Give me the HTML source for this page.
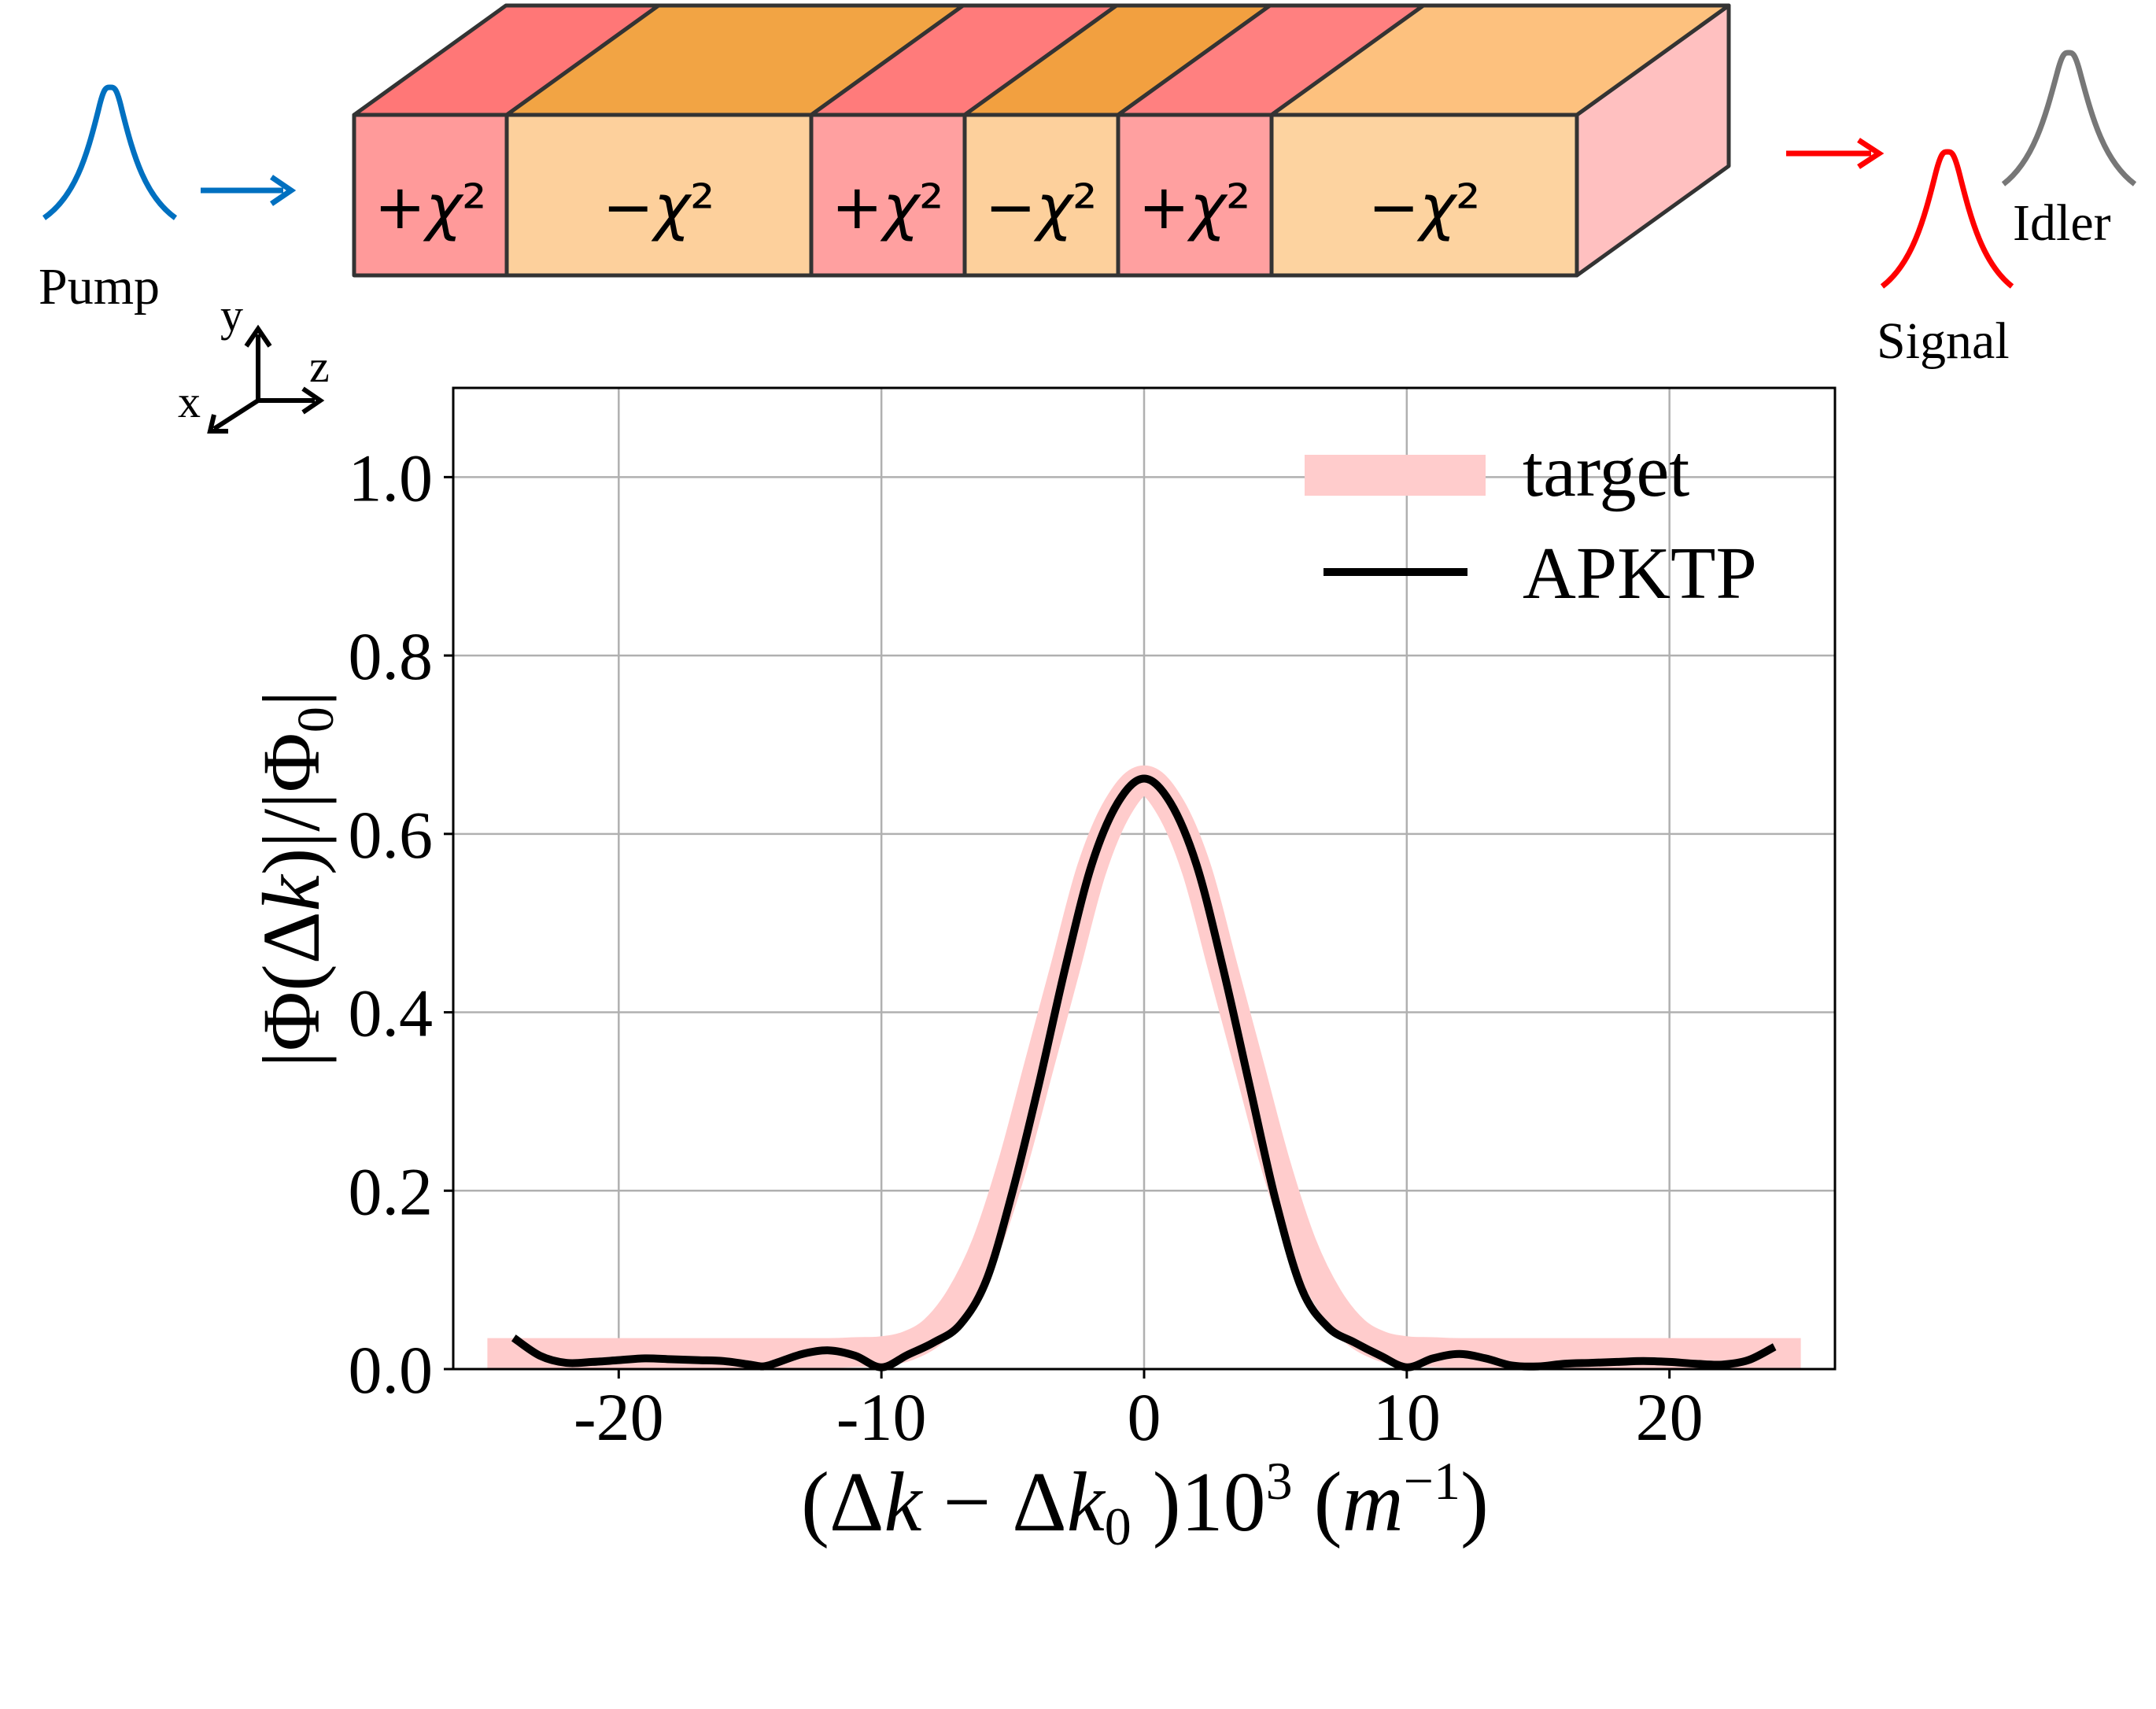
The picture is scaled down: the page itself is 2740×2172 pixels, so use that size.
<!DOCTYPE html>
<html><head><meta charset="utf-8"><style>
html,body{margin:0;padding:0;background:#fff}
svg{display:block}
text{font-family:"Liberation Serif",serif;fill:#000}
</style></head><body>
<svg id="fig" width="2740" height="2172" viewBox="0 0 2740 2172" xmlns="http://www.w3.org/2000/svg">
<g stroke="#333" stroke-width="5" stroke-linejoin="round">
  <polygon points="2004,146 2197,7 2197,211 2004,350" fill="#ffc0c0"/>
  <polygon points="450,146 644,146 837,7 643,7" fill="#ff7777"/>
  <polygon points="644,146 1031,146 1224,7 837,7" fill="#f2a444"/>
  <polygon points="1031,146 1226,146 1419,7 1224,7" fill="#ff7b7b"/>
  <polygon points="1226,146 1421,146 1614,7 1419,7" fill="#f2a040"/>
  <polygon points="1421,146 1616,146 1809,7 1614,7" fill="#ff8080"/>
  <polygon points="1616,146 2004,146 2197,7 1809,7" fill="#fdc17e"/>
  <rect x="450" y="146" width="194" height="204" fill="#ff9a9a"/>
  <rect x="644" y="146" width="387" height="204" fill="#fdd09c"/>
  <rect x="1031" y="146" width="195" height="204" fill="#ffa0a0"/>
  <rect x="1226" y="146" width="195" height="204" fill="#fdd09c"/>
  <rect x="1421" y="146" width="195" height="204" fill="#ffa0a0"/>
  <rect x="1616" y="146" width="388" height="204" fill="#fdd3a0"/>
</g>
<g font-size="78" text-anchor="middle">
  <text x="547" y="290" style="font-family:'DejaVu Sans',sans-serif">+<tspan font-style="italic">χ</tspan>²</text>
  <text x="837" y="290" style="font-family:'DejaVu Sans',sans-serif">−<tspan font-style="italic">χ</tspan>²</text>
  <text x="1128" y="290" style="font-family:'DejaVu Sans',sans-serif">+<tspan font-style="italic">χ</tspan>²</text>
  <text x="1323" y="290" style="font-family:'DejaVu Sans',sans-serif">−<tspan font-style="italic">χ</tspan>²</text>
  <text x="1518" y="290" style="font-family:'DejaVu Sans',sans-serif">+<tspan font-style="italic">χ</tspan>²</text>
  <text x="1810" y="290" style="font-family:'DejaVu Sans',sans-serif">−<tspan font-style="italic">χ</tspan>²</text>
</g>
<g fill="none" stroke-width="7">
  <path stroke="#0070c0" d="M56,277 C95,250 110,200 125,140 C132,110 135,111 140,111 C145,111 148,110 155,140 C170,200 185,250 223,277"/>
  <line x1="255" y1="242" x2="360" y2="242" stroke="#0070c0"/>
  <polyline points="345,225 370,242 345,259" stroke="#0070c0"/>
  <path stroke="#ff0000" d="M2392,364 C2430,335 2445,280 2460,220 C2467,193 2470,193 2475,193 C2480,193 2483,193 2490,220 C2505,280 2520,335 2557,364"/>
  <line x1="2270" y1="195" x2="2378" y2="195" stroke="#ff0000"/>
  <polyline points="2362,178 2388,195 2362,212" stroke="#ff0000"/>
  <path stroke="#777" d="M2546,234 C2584,205 2599,150 2614,94 C2621,67 2624,67 2629,67 C2634,67 2637,67 2644,94 C2659,150 2674,205 2713,234"/>
</g>
<text x="49" y="386" font-size="66">Pump</text>
<text x="2558" y="305" font-size="66">Idler</text>
<text x="2385" y="455" font-size="66">Signal</text>
<g stroke="#000" stroke-width="6" fill="none">
  <line x1="328" y1="509" x2="328" y2="425"/><polyline points="313,440 328,418 343,440"/>
  <line x1="328" y1="509" x2="400" y2="509"/><polyline points="385,494 407,509 385,524"/>
  <line x1="328" y1="509" x2="272" y2="545"/><polyline points="272,527 267,548 290,548"/>
</g>
<text x="280" y="420" font-size="58">y</text>
<text x="393" y="485" font-size="58">z</text>
<text x="226" y="530" font-size="58">x</text>
<g id="plot"></g>
</svg>
<script>
const xTicks = [-20, -10, 0, 10, 20];
const yTicks = [0.0, 0.2, 0.4, 0.6, 0.8, 1.0];
const yTickLabels = ["0.0", "0.2", "0.4", "0.6", "0.8", "1.0"];
const targetX = [-25,-20,-15,-12,-11,-10,-9,-8,-7,-6,-5,-4,-3,-2,-1,0,1,2,3,4,5,6,7,8,9,10,11,12,15,20,25];
const targetY = [0.018,0.018,0.018,0.018,0.019,0.02,0.026,0.043,0.08,0.14,0.23,0.34,0.45,0.56,0.63,0.66,0.63,0.56,0.45,0.34,0.23,0.14,0.08,0.043,0.026,0.02,0.019,0.018,0.018,0.018,0.018];
const apktpX = [-24,-23,-22,-21,-20,-19,-18,-17,-16,-15,-14.5,-14,-13,-12,-11,-10,-9,-8,-7,-6,-5,-4,-3,-2,-1,0,1,2,3,4,5,6,7,8,9,10,11,12,13,14,15,16,17,18,19,20,21,22,23,24];
const apktpY = [0.035,0.015,0.007,0.008,0.01,0.012,0.011,0.01,0.009,0.005,0.003,0.007,0.017,0.021,0.015,0.002,0.016,0.03,0.05,0.1,0.2,0.32,0.45,0.565,0.635,0.662,0.635,0.565,0.45,0.32,0.19,0.09,0.047,0.03,0.015,0.002,0.012,0.017,0.012,0.004,0.003,0.006,0.007,0.008,0.009,0.008,0.006,0.005,0.01,0.025];

const NS = "http://www.w3.org/2000/svg";
const L = 576, R = 2332, T = 493, B = 1740;
const xMin = -26.3, xMax = 26.3, yMin = 0, yMax = 1.1;
const sx = v => L + (v - xMin) / (xMax - xMin) * (R - L);
const sy = v => B - (v - yMin) / (yMax - yMin) * (B - T);
const g = document.getElementById('plot');
function mk(tag, attrs, parent) {
  const e = document.createElementNS(NS, tag);
  for (const k in attrs) e.setAttribute(k, attrs[k]);
  (parent || g).appendChild(e);
  return e;
}
function smooth(xs, ys) {
  const p = xs.map((x, i) => [sx(x), sy(ys[i])]);
  let d = `M${p[0][0]},${p[0][1]}`;
  for (let i = 0; i < p.length - 1; i++) {
    const p0 = p[Math.max(0, i - 1)], p1 = p[i], p2 = p[i + 1], p3 = p[Math.min(p.length - 1, i + 2)];
    const c1 = [p1[0] + (p2[0] - p0[0]) / 6, p1[1] + (p2[1] - p0[1]) / 6];
    const c2 = [p2[0] - (p3[0] - p1[0]) / 6, p2[1] - (p3[1] - p1[1]) / 6];
    d += ` C${c1[0]},${c1[1]} ${c2[0]},${c2[1]} ${p2[0]},${p2[1]}`;
  }
  return d;
}
xTicks.forEach(v => {
  const l = mk('line', {x1: sx(v), x2: sx(v), y1: T, y2: B, stroke: '#b0b0b0', 'stroke-width': 2.5});
  
  
  const t = mk('line', {x1: sx(v), x2: sx(v), y1: B, y2: B + 12, stroke: '#000', 'stroke-width': 3});
  
  
  const tx = mk('text', {x: sx(v), y: 1830, 'font-size': 86, 'text-anchor': 'middle'});
  tx.textContent = String(v);
  
  
});
yTicks.forEach((v, i) => {
  const l = mk('line', {x1: L, x2: R, y1: sy(v), y2: sy(v), stroke: '#b0b0b0', 'stroke-width': 2.5});
  
  
  const t = mk('line', {x1: L - 12, x2: L, y1: sy(v), y2: sy(v), stroke: '#000', 'stroke-width': 3});
  
  
  const tx = mk('text', {x: 550, y: sy(v) + 30, 'font-size': 86, 'text-anchor': 'end'});
  tx.textContent = yTickLabels[i];
  
  
});
const tgt = mk('path', {d: smooth(targetX, targetY), fill: 'none', stroke: '#ffcccc', 'stroke-width': 38, 'stroke-linejoin': 'round'});


const ap = mk('path', {d: smooth(apktpX, apktpY), fill: 'none', stroke: '#000', 'stroke-width': 10, 'stroke-linejoin': 'round'});


const frame = mk('rect', {x: L, y: T, width: R - L, height: B - T, fill: 'none', stroke: '#000', 'stroke-width': 3});


// legend
const lp = mk('rect', {x: 1658, y: 578, width: 230, height: 52, fill: '#ffcccc'});


const lt = mk('text', {x: 1935, y: 630, 'font-size': 94});
lt.textContent = 'target';


const ll = mk('line', {x1: 1682, x2: 1865, y1: 727, y2: 727, stroke: '#000', 'stroke-width': 10});


const la = mk('text', {x: 1935, y: 760, 'font-size': 94});
la.textContent = 'APKTP';


// axis titles
const xt = mk('text', {x: 1455, y: 1945, 'font-size': 108, 'text-anchor': 'middle'});
xt.innerHTML = '(Δ<tspan font-style="italic">k</tspan> − Δ<tspan font-style="italic">k</tspan><tspan font-size="68" dy="18">0</tspan><tspan dy="-18"> )10</tspan><tspan font-size="68" dy="-40">3</tspan><tspan dy="40"> (</tspan><tspan font-style="italic">m</tspan><tspan font-size="68" dy="-40">−1</tspan><tspan dy="40">)</tspan>';


const yt = mk('text', {x: 0, y: 0, 'font-size': 104, 'text-anchor': 'middle', transform: 'translate(405,1117) rotate(-90)'});
yt.innerHTML = '|Φ(Δ<tspan font-style="italic">k</tspan>)|/|Φ<tspan font-size="66" dy="18">0</tspan><tspan dy="-18">|</tspan>';


</script>
</body></html>
